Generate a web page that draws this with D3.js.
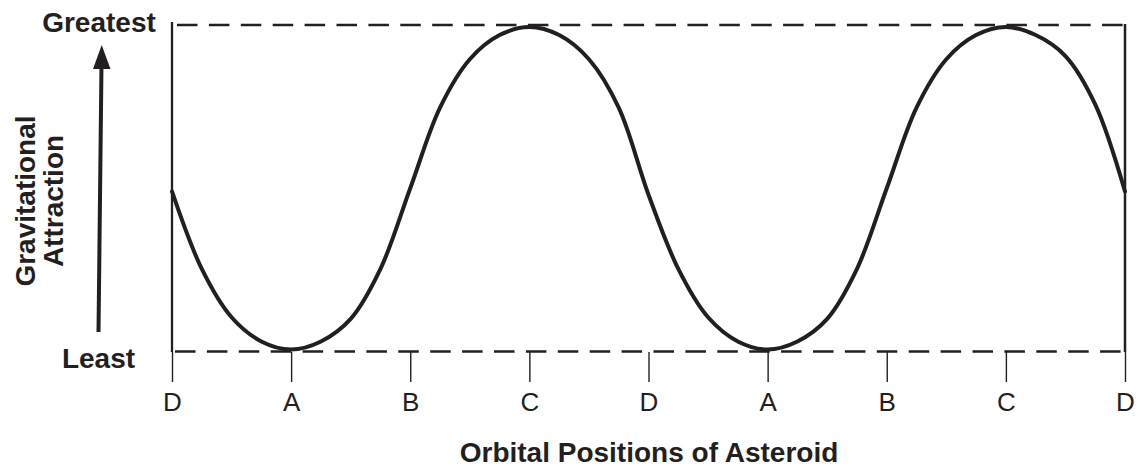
<!DOCTYPE html>
<html>
<head>
<meta charset="utf-8">
<script src="https://cdn.jsdelivr.net/npm/d3@7"></script>
<style>
  body { margin: 0; background: #fff; }
  svg { display: block; }
</style>
</head>
<body>
<div class="canvas"></div>
<script>
'use strict';

// orbital positions along the x axis
var POSITION_LABELS = ['D', 'A', 'B', 'C', 'D', 'A', 'B', 'C', 'D'];

// curve, every quarter position (0 = least, 1 = greatest)
var CURVE_POSITIONS = [
  0, 0.25, 0.5, 0.75, 1, 1.25, 1.5, 1.75,
  2, 2.25, 2.5, 2.75, 3, 3.25, 3.5, 3.75,
  4, 4.25, 4.5, 4.75, 5, 5.25, 5.5, 5.75,
  6, 6.25, 6.5, 6.75, 7, 7.25, 7.5, 7.75, 8
];
var CURVE_VALUES = [
  0.49, 0.25, 0.10, 0.025, 0, 0.025, 0.095, 0.25,
  0.50, 0.75, 0.90, 0.975, 1, 0.975, 0.90, 0.75,
  0.48, 0.25, 0.10, 0.025, 0, 0.025, 0.095, 0.25,
  0.50, 0.75, 0.90, 0.975, 1, 0.975, 0.91, 0.76, 0.49
];

var Y_TOP_LABEL = 'Greatest';
var Y_BOTTOM_LABEL = 'Least';
var Y_TITLE_LINES = ['Gravitational', 'Attraction'];
var X_TITLE = 'Orbital Positions of Asteroid';

var WIDTH = 1138;
var HEIGHT = 467;
var INK = '#231f20';
var FONT = "'Liberation Sans', Arial, Helvetica, sans-serif";

var FRAME_LEFT = 172;
var FRAME_RIGHT = 1125;
var FRAME_TOP = 25;
var FRAME_BOTTOM = 352;

var svg = d3.select('.canvas').append('svg')
  .attr('width', WIDTH)
  .attr('height', HEIGHT)
  .style('font-family', FONT);

var x = d3.scaleLinear()
  .domain([0, POSITION_LABELS.length - 1])
  .range([FRAME_LEFT, FRAME_RIGHT]);

var y = d3.scaleLinear()
  .domain([0, 1])
  .range([349.5, 27]);

// dashed top / bottom limits
svg.append('line')
  .attr('x1', 177).attr('x2', FRAME_RIGHT)
  .attr('y1', FRAME_TOP).attr('y2', FRAME_TOP)
  .attr('stroke', INK)
  .attr('stroke-width', 2.7)
  .attr('stroke-dasharray', '20.5,11.4');

svg.append('line')
  .attr('x1', 175).attr('x2', FRAME_RIGHT)
  .attr('y1', FRAME_BOTTOM - 0.5).attr('y2', FRAME_BOTTOM - 0.5)
  .attr('stroke', INK)
  .attr('stroke-width', 2.7)
  .attr('stroke-dasharray', '20.5,11.4');

// solid sides
svg.append('line')
  .attr('x1', FRAME_LEFT).attr('x2', FRAME_LEFT)
  .attr('y1', 22).attr('y2', FRAME_BOTTOM)
  .attr('stroke', INK)
  .attr('stroke-width', 2.3);

svg.append('line')
  .attr('x1', FRAME_RIGHT).attr('x2', FRAME_RIGHT)
  .attr('y1', FRAME_TOP - 1).attr('y2', FRAME_BOTTOM)
  .attr('stroke', INK)
  .attr('stroke-width', 2.5);

// x axis
var xAxis = d3.axisBottom(x)
  .tickValues(d3.range(POSITION_LABELS.length))
  .tickFormat(function(d) { return POSITION_LABELS[d]; })
  .tickSize(30)
  .tickPadding(11);

var axisG = svg.append('g')
  .attr('transform', 'translate(0,' + FRAME_BOTTOM + ')')
  .call(xAxis)
  .attr('font-family', FONT)
  .attr('font-size', 26);
axisG.select('.domain').remove();
axisG.selectAll('.tick line')
  .attr('stroke', INK)
  .attr('stroke-width', 1.4);
axisG.selectAll('.tick text')
  .attr('fill', INK);

// the curve
var points = CURVE_POSITIONS.map(function(p, i) { return [p, CURVE_VALUES[i]]; });
var line = d3.line()
  .x(function(d) { return x(d[0]); })
  .y(function(d) { return y(d[1]); })
  .curve(d3.curveCatmullRom.alpha(0.5));

svg.append('path')
  .datum(points)
  .attr('d', line)
  .attr('fill', 'none')
  .attr('stroke', INK)
  .attr('stroke-width', 4)
  .attr('stroke-linecap', 'round');

// arrow up the y side
svg.append('line')
  .attr('x1', 98.5).attr('y1', 332)
  .attr('x2', 101.5).attr('y2', 64)
  .attr('stroke', INK)
  .attr('stroke-width', 4);

svg.append('path')
  .attr('d', 'M101.7,45L110.5,69L93,69Z')
  .attr('fill', INK);

svg.append('text')
  .attr('x', 99).attr('y', 31.5)
  .attr('text-anchor', 'middle')
  .attr('font-weight', 'bold')
  .attr('font-size', 28)
  .attr('fill', INK)
  .text(Y_TOP_LABEL);

svg.append('text')
  .attr('x', 98.5).attr('y', 368)
  .attr('text-anchor', 'middle')
  .attr('font-weight', 'bold')
  .attr('font-size', 28)
  .attr('fill', INK)
  .text(Y_BOTTOM_LABEL);

// y title, two rotated lines
svg.selectAll('text.y-title')
  .data(Y_TITLE_LINES)
  .enter()
  .append('text')
  .attr('class', 'y-title')
  .attr('transform', function(d, i) { return 'translate(' + (35 + i * 28) + ',201) rotate(-90)'; })
  .attr('text-anchor', 'middle')
  .attr('font-weight', 'bold')
  .attr('font-size', 28)
  .attr('fill', INK)
  .text(function(d) { return d; });

svg.append('text')
  .attr('x', 649).attr('y', 462)
  .attr('text-anchor', 'middle')
  .attr('font-weight', 'bold')
  .attr('font-size', 28)
  .attr('fill', INK)
  .text(X_TITLE);
</script>
</body>
</html>
